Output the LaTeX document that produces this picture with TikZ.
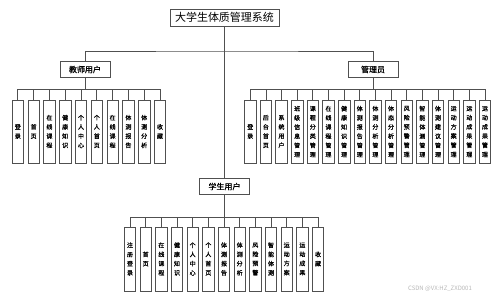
\documentclass[tikz,border=0pt]{standalone}
\usepackage{fontspec}
\setmainfont{Noto Sans CJK SC}
\newfontfamily\boldcjk{Noto Sans CJK SC}[FakeBold=0.8]
\definecolor{linec}{RGB}{80,80,80}
\tikzset{
  conn/.style={draw=linec, line width=0.7pt},
  rootbox/.style={draw=linec, line width=0.7pt, inner sep=0pt, minimum width=109pt, minimum height=17pt, font=\fontsize{11}{11}\selectfont},
  midbox/.style={draw=linec, line width=0.7pt, inner sep=0pt, minimum width=50pt, minimum height=16.5pt, font=\boldcjk\fontsize{8}{8}\selectfont},
  leafbox/.style={draw=linec, line width=0.7pt, inner sep=0pt, minimum width=11.5pt, align=center, font=\boldcjk\fontsize{6}{9.2}\selectfont},
}
\begin{document}
\begin{tikzpicture}[x=1pt,y=-1pt]
\fill[white] (0,0) rectangle (499,301);
\useasboundingbox (0,0) rectangle (499,301);

\node[rootbox] (root) at (224.5,17.5) {大学生体质管理系统};
\node[midbox] (tm) at (85,69.5) {教师用户};
\node[midbox] (am) at (373,69.5) {管理员};
\node[midbox] (sm) at (224.5,186.5) {学生用户};

\coordinate (rbus) at (225,51);
\draw[conn] (root.south) -- (sm.north);
\draw[conn] (tm.north) |- (rbus) -| (am.north);

% teacher leaves
\foreach \t [count=\i] in {{登\\录},{首\\页},{在\\线\\课\\程},{健\\康\\知\\识},{个\\人\\中\\心},{个\\人\\首\\页},{在\\线\\课\\程},{体\\测\\报\\告},{体\\测\\分\\析},{收\\藏}}{
  \node[leafbox, minimum height=63pt] (t\i) at ({17.8+15.8*(\i-1)},131.5) {\t};
}
\coordinate (tbus) at (85,89);
\draw[conn] (tm.south) -- (tbus);
\draw[conn] (t1.north |- tbus) -- (t10.north |- tbus);
\foreach \i in {1,...,10}{\draw[conn] (t\i.north |- tbus) -- (t\i.north);}

% admin leaves
\foreach \t [count=\i] in {{登\\录},{后\\台\\首\\页},{系\\统\\用\\户},{班\\级\\信\\息\\管\\理},{课\\程\\分\\类\\管\\理},{在\\线\\课\\程\\管\\理},{健\\康\\知\\识\\管\\理},{体\\测\\报\\告\\管\\理},{体\\测\\分\\析\\管\\理},{体\\态\\分\\析\\管\\理},{风\\险\\预\\警\\管\\理},{智\\能\\体\\测\\管\\理},{体\\测\\建\\议\\管\\理},{运\\动\\方\\案\\管\\理},{运\\动\\成\\果\\管\\理},{运\\动\\成\\果\\管\\理}}{
  \node[leafbox, minimum height=63pt] (a\i) at ({250.2+15.65*(\i-1)},131.5) {\t};
}
\coordinate (abus) at (373,89);
\draw[conn] (am.south) -- (abus);
\draw[conn] (a1.north |- abus) -- (a16.north |- abus);
\foreach \i in {1,...,16}{\draw[conn] (a\i.north |- abus) -- (a\i.north);}

% student leaves
\foreach \t [count=\i] in {{注\\册\\登\\录},{首\\页},{在\\线\\课\\程},{健\\康\\知\\识},{个\\人\\中\\心},{个\\人\\首\\页},{体\\测\\报\\告},{体\\测\\分\\析},{风\\险\\预\\警},{智\\能\\体\\测},{运\\动\\方\\案},{运\\动\\成\\果},{收\\藏}}{
  \node[leafbox, minimum height=64pt] (s\i) at ({130+15.67*(\i-1)},259) {\t};
}
\coordinate (sbus) at (224.5,217);
\draw[conn] (sm.south) -- (sbus);
\draw[conn] (s1.north |- sbus) -- (s13.north |- sbus);
\foreach \i in {1,...,13}{\draw[conn] (s\i.north |- sbus) -- (s\i.north);}

\node[font=\fontsize{6}{6}\selectfont, text=gray!55, inner sep=0pt] (wm) at (440,289) {CSDN @VX:HZ\_ZXD001};
\end{tikzpicture}
\end{document}
